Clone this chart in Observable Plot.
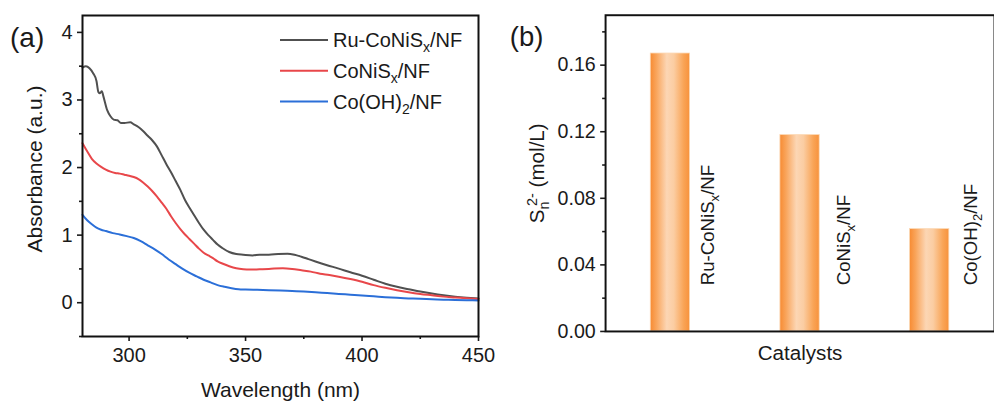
<!DOCTYPE html>
<html><head><meta charset="utf-8">
<script src="https://cdn.jsdelivr.net/npm/d3@7"></script>
<script src="https://cdn.jsdelivr.net/npm/@observablehq/plot@0.6"></script>
<style>
html,body{margin:0;padding:0;background:#fff;overflow:hidden;width:994px;height:403px;}
#wrap{position:relative;width:994px;height:403px;overflow:hidden;}
#left{position:absolute;left:0;top:0;}
#right{position:absolute;left:500px;top:0;}
</style></head><body><div id="wrap"><div id="left"></div><div id="right"></div></div>
<script>
// ---------- Data: panel (a) UV-vis absorbance ----------
const seriesNames = ["Ru-CoNiS_{x}/NF", "CoNiS_{x}/NF", "Co(OH)_{2}/NF"];
const seriesColors = ["#505050", "#e8474a", "#2b6fd8"];

const wlRu = [280,281.5,283,284.5,286,286.8,287.5,288.3,289,290.6,292,293.4,295,296.5,298,300.5,302,304,306,308,310,312,314,316,318,320,322,324,326,328,330,332,334,336,338,340,343,346,349,353,356,360,364,368,371,374,377,380,385,390,395,400,405,410,415,420,425,430,435,440,445,450];
const absRu = [3.48,3.50,3.47,3.40,3.28,3.12,3.10,3.13,3.05,2.85,2.76,2.71,2.70,2.66,2.66,2.67,2.64,2.60,2.54,2.47,2.40,2.31,2.18,2.05,1.93,1.80,1.67,1.52,1.40,1.29,1.18,1.08,1.00,0.93,0.86,0.81,0.75,0.72,0.71,0.70,0.71,0.71,0.72,0.725,0.71,0.68,0.645,0.61,0.555,0.505,0.45,0.40,0.34,0.28,0.235,0.20,0.165,0.135,0.11,0.09,0.075,0.063];

const wlCoNi = [280,282,284,286,288,290,292,294,296,298,300,302,304,306,308,310,312,314,316,318,320,322,324,326,328,330,332,334,336,338,340,343,346,349,352,356,360,366,370,374,378,382,386,390,395,400,405,410,415,420,425,430,435,440,445,450];
const absCoNi = [2.36,2.24,2.13,2.06,2.01,1.97,1.94,1.92,1.91,1.895,1.88,1.86,1.83,1.78,1.72,1.65,1.57,1.48,1.39,1.28,1.18,1.09,1.01,0.94,0.87,0.80,0.74,0.70,0.66,0.61,0.58,0.54,0.51,0.495,0.49,0.495,0.50,0.51,0.50,0.48,0.46,0.43,0.41,0.385,0.35,0.31,0.26,0.22,0.185,0.155,0.13,0.11,0.09,0.078,0.065,0.055];

const wlCo = [280,282,284,286,288,290,293,296,299,302,305,308,311,314,317,320,323,326,329,332,335,338,341,344,347,350,355,360,365,370,375,380,385,390,395,400,405,410,415,420,425,430,435,440,445,450];
const absCo = [1.30,1.22,1.16,1.11,1.08,1.06,1.03,1.01,0.985,0.957,0.91,0.85,0.79,0.72,0.64,0.57,0.50,0.44,0.39,0.34,0.30,0.26,0.235,0.215,0.20,0.195,0.19,0.185,0.18,0.172,0.165,0.155,0.142,0.13,0.118,0.105,0.094,0.082,0.072,0.064,0.057,0.05,0.045,0.04,0.037,0.034];

const xTicksA = [300, 350, 400, 450];
const xMinorA = [325, 375, 425];
const yTicksA = [0, 1, 2, 3, 4];
const yMinorA = [-0.5, 0.5, 1.5, 2.5, 3.5];

// ---------- Data: panel (b) polysulfide concentration ----------
const catalysts = ["Ru-CoNiS_{x}/NF", "CoNiS_{x}/NF", "Co(OH)_{2}/NF"];
const concentration = [0.167, 0.118, 0.0615];
const yTicksB = [0, 0.04, 0.08, 0.12, 0.16];
const yMinorB = [0.02, 0.06, 0.10, 0.14, 0.18];

const FONT = "'Liberation Sans', Arial, Helvetica, sans-serif";
const SVGNS = "http://www.w3.org/2000/svg";

// rich text: _{sub} and ^{sup}
function rich(el, s) {
  el.textContent = "";
  const re = /([_^])\{([^}]*)\}/g;
  let last = 0, m, cur = 0, prevSub = null;
  const add = (t, target, small, dx) => {
    const ts = document.createElementNS(SVGNS, "tspan");
    ts.textContent = t;
    const dy = target - cur;
    if (dy) ts.setAttribute("dy", dy);
    if (dx) ts.setAttribute("dx", dx);
    if (small) ts.setAttribute("font-size", "0.7em");
    el.appendChild(ts);
    cur = target;
    return ts;
  };
  while ((m = re.exec(s))) {
    if (m.index > last) { add(s.slice(last, m.index), 0, false); prevSub = null; }
    if (m[1] === "_") {
      prevSub = add(m[2], 5, true);
    } else {
      let dx = 0;
      if (prevSub) dx = -(prevSub.getComputedTextLength() * 0.55);
      add(m[2], -8, true, dx);
      prevSub = null;
    }
    last = re.lastIndex;
  }
  if (last < s.length) add(s.slice(last), 0, false);
}
function richAll(svgNode) {
  d3.select(svgNode).selectAll("text").each(function() {
    const s = this.textContent;
    if (/[_^]\{/.test(s)) rich(this, s);
  });
}

// ---------- Panel (a) ----------
const rows = [];
[[wlRu, absRu], [wlCoNi, absCoNi], [wlCo, absCo]].forEach(([w, a], i) => {
  w.forEach((v, j) => rows.push({series: seriesNames[i], wl: v, a: a[j]}));
});

const left = Plot.plot({
  width: 500, height: 403,
  marginLeft: 82, marginRight: 22, marginTop: 15, marginBottom: 67,
  style: {fontFamily: FONT, fontSize: "20px", color: "#1a1a1a", background: "transparent"},
  x: {domain: [280, 450]},
  y: {domain: [-0.5, 4.25]},
  color: {domain: seriesNames, range: seriesColors},
  marks: [
    Plot.line(rows, {x: "wl", y: "a", z: "series", stroke: "series", strokeWidth: 2, curve: "monotone-x"}),
    Plot.axisY(yTicksA, {tickSize: 5, tickPadding: 5, strokeWidth: 1.6, tickFormat: d => String(d), label: null, fontSize: 20}),
    Plot.axisY(yMinorA, {tickSize: 3, strokeWidth: 1.6, tickFormat: () => "", label: null}),
    Plot.axisX(xTicksA, {tickSize: 5, tickPadding: 6, strokeWidth: 1.6, tickFormat: d => String(d), label: null, fontSize: 20}),
    Plot.axisX(xMinorA, {tickSize: 3, strokeWidth: 1.6, tickFormat: () => "", label: null}),
    Plot.frame({stroke: "#111", strokeWidth: 2}),
    Plot.text(["Wavelength (nm)"], {frameAnchor: "bottom", lineAnchor: "middle", dy: 54, text: d => d, fontSize: 21}),
    Plot.text(["Absorbance (a.u.)"], {frameAnchor: "left", rotate: -90, textAnchor: "middle", lineAnchor: "middle", dx: -47, dy: -7, text: d => d, fontSize: 21})
  ]
});
document.getElementById("left").appendChild(left);

// legend + panel tag for (a)
{
  const svg = d3.select(left);
  const g = svg.append("g").attr("font-family", FONT).attr("font-size", 20)
    .attr("fill", "#1a1a1a").attr("text-anchor", "start");
  seriesNames.forEach((name, i) => {
    const y = 40 + i * 30.8;
    g.append("line").attr("x1", 280).attr("x2", 328).attr("y1", y).attr("y2", y)
      .attr("stroke", seriesColors[i]).attr("stroke-width", 2);
    const t = g.append("text").attr("x", 333).attr("y", y + 7);
    rich(t.node(), name);
  });
  svg.append("text").attr("x", 10).attr("y", 47).attr("font-family", FONT).attr("text-anchor", "start")
    .attr("font-size", 28).attr("fill", "#1a1a1a").text("(a)");
}

// ---------- Panel (b) ----------
const bars = catalysts.map((c, i) => ({c, v: concentration[i]}));
const barLabel = (i, dx) => Plot.text([bars[i]], {
  x: "c", text: "c", frameAnchor: "bottom", rotate: -90, textAnchor: "start", lineAnchor: "middle",
  dx, dy: -47, fontSize: 19
});
const right = Plot.plot({
  width: 503, height: 403,
  marginLeft: 107, marginRight: 0, marginTop: 15, marginBottom: 66,
  style: {fontFamily: FONT, fontSize: "20px", color: "#1a1a1a", background: "transparent", overflow: "visible"},
  x: {domain: catalysts, axis: null, paddingInner: 0.7, paddingOuter: 0.35},
  y: {domain: [0, 0.19]},
  marks: [
    Plot.barY(bars, {x: "c", y: "v", fill: "url(#barGrad)", stroke: "#fcd9b6", strokeWidth: 0.8}),
    Plot.axisY(yTicksB, {tickSize: 5, tickPadding: 5, strokeWidth: 1.6, tickFormat: d3.format(".2f"), label: null, fontSize: 20}),
    Plot.axisY(yMinorB, {tickSize: 3, strokeWidth: 1.6, tickFormat: () => "", label: null}),
    Plot.frame({stroke: "#111", strokeWidth: 2}),
    barLabel(0, 38),
    barLabel(1, 45),
    barLabel(2, 42),
    Plot.text(["Catalysts"], {frameAnchor: "bottom", lineAnchor: "middle", dy: 22, text: d => d, fontSize: 21}),
    Plot.text(["S_{n}^{2-} (mol/L)"], {frameAnchor: "left", rotate: -90, textAnchor: "middle", lineAnchor: "middle", dx: -69, dy: 0, text: d => d, fontSize: 21})
  ]
});
document.getElementById("right").appendChild(right);
{
  const svg = d3.select(right);
  const defs = svg.insert("defs", ":first-child");
  const grad = defs.append("linearGradient").attr("id", "barGrad").attr("x1", "0%").attr("x2", "100%").attr("y1", "0%").attr("y2", "0%");
  [[0, "#f78b33"], [0.15, "#f9a45a"], [0.42, "#fcd6b4"], [0.6, "#fbcda2"], [0.85, "#f9a456"], [1, "#f7923c"]]
    .forEach(([o, c]) => grad.append("stop").attr("offset", o).attr("stop-color", c));
  richAll(right);
  svg.append("text").attr("x", 10).attr("y", 47).attr("font-family", FONT).attr("text-anchor", "start")
    .attr("font-size", 28).attr("fill", "#1a1a1a").text("(b)");
}
</script>
</body></html>
